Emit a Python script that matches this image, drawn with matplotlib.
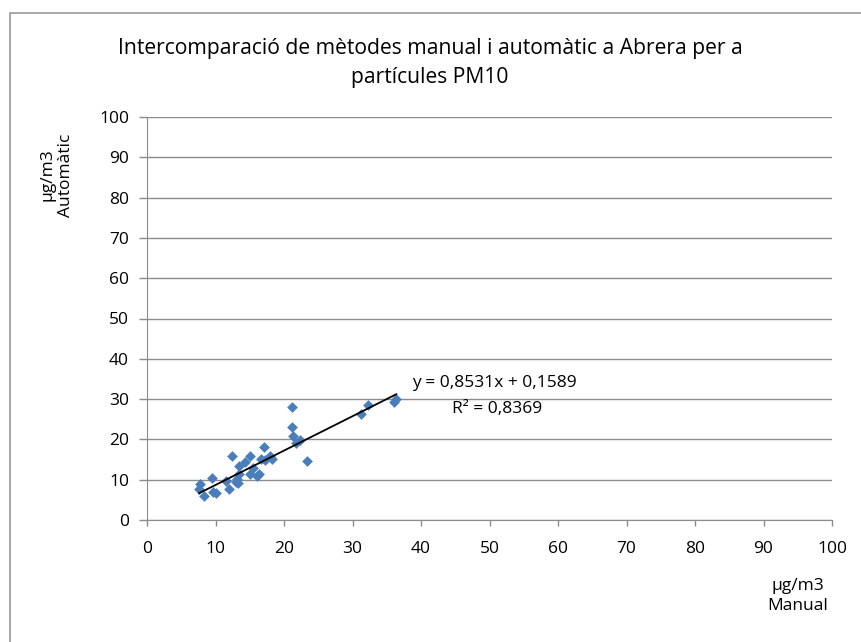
import numpy as np
import matplotlib
matplotlib.use("Agg")
import matplotlib.pyplot as plt
from matplotlib.patches import Rectangle

plt.rcParams['font.family'] = ['Open Sans', 'DejaVu Sans']

# Manual vs automatic PM10 (µg/m3)
manual = [7.7, 7.6, 8.3, 9.5, 9.7, 10.0, 11.6, 12.0, 12.4, 13.0, 13.2, 13.3,
          13.4, 13.5, 14.3, 15.1, 15.1, 15.5, 16.1, 16.4, 16.6, 17.1, 17.2,
          18.0, 18.3, 21.2, 21.1, 21.3, 21.7, 22.3, 23.3, 31.2, 32.3, 36.0, 36.4]
automatic = [8.9, 7.7, 6.0, 10.3, 7.0, 6.8, 9.7, 7.7, 15.8, 9.5, 10.2, 9.1,
             13.5, 11.3, 14.3, 16.0, 11.3, 12.8, 10.8, 11.4, 15.2, 18.1, 15.0,
             15.8, 15.2, 28.1, 23.1, 20.8, 19.1, 19.8, 14.6, 26.3, 28.5, 29.2, 30.0]

slope = 0.8531
intercept = 0.1589
r2 = 0.8369

title = "Intercomparació de mètodes manual i automàtic a Abrera per a\npartícules PM10"
eq_label = "y = 0,8531x + 0,1589"
r2_label = "R² = 0,8369"

fig = plt.figure(figsize=(8.61, 6.42), dpi=100)
ax = fig.add_axes([147 / 861, 1 - 520 / 642, 685 / 861, 403 / 642])

# outer chart border (only left/top visible)
fig.patches.append(Rectangle((10 / 861, -0.05), 1.2, 1 - 13 / 642 + 0.05,
                             transform=fig.transFigure, fill=False,
                             edgecolor='#a0a0a0', linewidth=1.3))

ax.scatter(manual, automatic, marker='D', s=30, color='#4a7ebb', zorder=3,
           linewidths=0)

xs = np.array([min(manual), max(manual)])
ax.plot(xs, slope * xs + intercept, color='black', linewidth=1.3, zorder=4)

ax.set_xlim(0, 100)
ax.set_ylim(0, 100)
ax.set_xticks(range(0, 101, 10))
ax.set_yticks(range(0, 101, 10))
ax.yaxis.grid(True, color='#8c8c8c', linewidth=1)
ax.set_axisbelow(True)
for s in ['top', 'right']:
    ax.spines[s].set_visible(False)
for s in ['left', 'bottom']:
    ax.spines[s].set_color('#8c8c8c')
ax.tick_params(axis='both', colors='#8c8c8c', labelcolor='black',
               labelsize=12.5, width=1)
ax.tick_params(axis='y', length=6, pad=7)
ax.tick_params(axis='x', length=4.3, pad=11)

fig.text(430 / 861, 1 - 63 / 642, title, ha='center', va='center',
         fontsize=15.2, linespacing=1.55)

ax.text(38.7, 34.0, eq_label, fontsize=12.5, ha='left', va='center')
ax.text(44.5, 27.5, r2_label, fontsize=12.5, ha='left', va='center')

fig.text(57 / 861, 1 - 175 / 642, "µg/m3\nAutomàtic", rotation=90,
         ha='center', va='center', fontsize=12.5, linespacing=1.25)
fig.text(798 / 861, 1 - 596 / 642, "µg/m3\nManual", ha='center', va='center',
         fontsize=12.5, linespacing=1.4)

fig.savefig("out.png", dpi=100)
